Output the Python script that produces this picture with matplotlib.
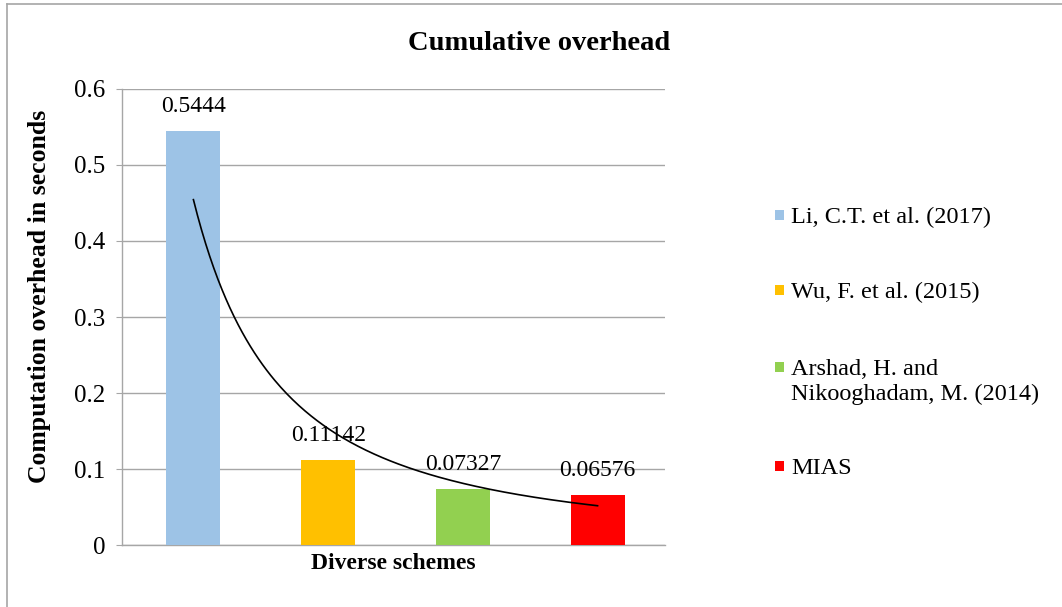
import numpy as np
import matplotlib
matplotlib.use("Agg")
import matplotlib.pyplot as plt
from matplotlib.lines import Line2D
from matplotlib.patches import Rectangle

plt.rcParams["font.family"] = ["Liberation Serif", "DejaVu Serif"]

schemes = [
    "Li, C.T. et al. (2017)",
    "Wu, F. et al. (2015)",
    "Arshad, H. and\nNikooghadam, M. (2014)",
    "MIAS",
]
overhead = [0.5444, 0.11142, 0.07327, 0.06576]
value_labels = ["0.5444", "0.11142", "0.07327", "0.06576"]
colors = ["#9DC3E6", "#FFC000", "#92D050", "#FF0000"]
yticks = [0, 0.1, 0.2, 0.3, 0.4, 0.5, 0.6]

GRID = "#A6A6A6"
W, H = 1062, 607

fig = plt.figure(figsize=(W / 100, H / 100), dpi=100, facecolor="white")
ax = fig.add_axes([0.1149, 0.1021, 0.5112, 0.7513])

x = np.arange(len(overhead))
ax.bar(x, overhead, width=0.4, color=colors, zorder=3)
for xi, v, lbl in zip(x, overhead, value_labels):
    ax.text(xi, v + 0.019, lbl, ha="center", va="bottom", fontsize=17, zorder=5)

# power trendline y = a * n^b fitted on category index n = 1..4
n = x + 1
b, ln_a = np.polyfit(np.log(n), np.log(overhead), 1)
nn = np.linspace(1, len(overhead), 200)
ax.plot(nn - 1, np.exp(ln_a) * nn ** b, color="black", lw=1.2, zorder=4)

ax.set_xlim(-0.53, 3.5)
ax.set_ylim(0, 0.6)
ax.set_yticks(yticks)
ax.set_yticklabels(["0", "0.1", "0.2", "0.3", "0.4", "0.5", "0.6"])
ax.set_xticks([])
ax.grid(axis="y", color=GRID, lw=1, zorder=0)
for side in ["top", "right"]:
    ax.spines[side].set_visible(False)
for side in ["left", "bottom"]:
    ax.spines[side].set_color(GRID)
    ax.spines[side].set_linewidth(1)
ax.tick_params(axis="y", length=4, color=GRID, labelsize=18, pad=8)

ax.set_xlabel("Diverse schemes", fontsize=17, fontweight="bold", labelpad=6)
ax.set_ylabel("Computation overhead in seconds", fontsize=18.5,
              fontweight="bold")
ax.yaxis.set_label_coords(-0.130, 0.545)
fig.text(0.508, 1 - 43 / H, "Cumulative overhead", ha="center", va="center",
         fontsize=20.5, fontweight="bold")

# legend: square swatch beside the first line of each entry
row_y = [215, 290, 367, 466]
for c, lbl, ry in zip(colors, schemes, row_y):
    fig.add_artist(Rectangle((775 / W, 1 - (ry + 5) / H), 9 / W, 10 / H,
                             transform=fig.transFigure, facecolor=c,
                             edgecolor="none"))
    fig.text(791 / W, 1 - (ry - 8) / H, lbl, ha="left", va="top",
             fontsize=17.5, linespacing=1.24)

# outer chart frame (left and top edges)
fig.add_artist(Line2D([7 / W, 7 / W], [0, 1 - 4 / H], color=GRID, lw=1.2))
fig.add_artist(Line2D([7 / W, 1], [1 - 4 / H, 1 - 4 / H], color=GRID, lw=1.2))

fig.savefig("out.png", dpi=100, facecolor="white")
